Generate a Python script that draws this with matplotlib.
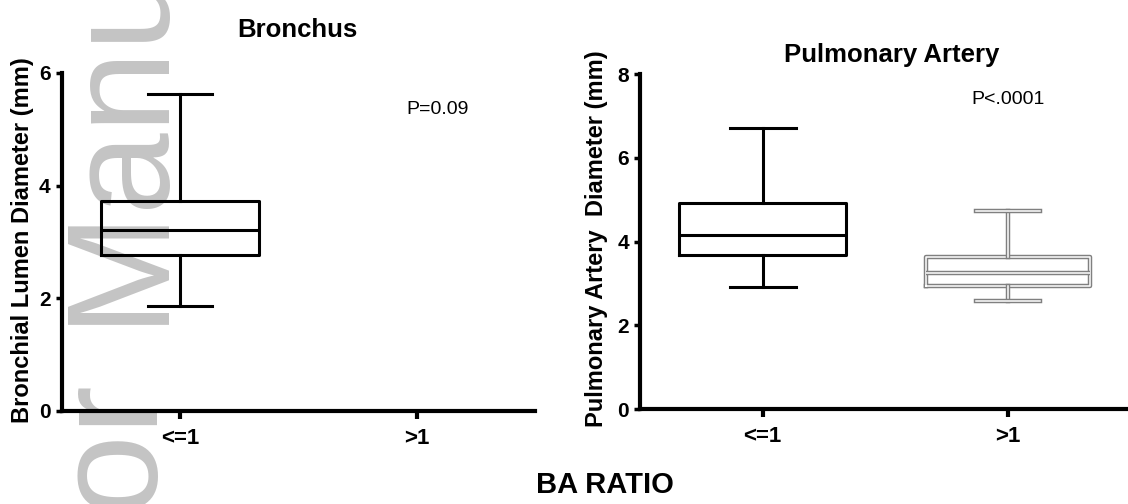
import matplotlib
matplotlib.use('Agg')
import matplotlib.pyplot as plt
import matplotlib.patheffects as pe

plt.rcParams['font.family'] = ['Liberation Sans', 'DejaVu Sans']

groups = ['<=1', '>1']
# low whisker, Q1, median, Q3, high whisker
bronchus_le1 = [1.86, 2.77, 3.22, 3.72, 5.62]
artery_le1 = [2.92, 3.67, 4.17, 4.93, 6.70]
artery_gt1 = [2.59, 2.94, 3.26, 3.64, 4.73]
bronchus_ticks = [0, 2, 4, 6]
artery_ticks = [0, 2, 4, 6, 8]
p_bronchus = 'P=0.09'
p_artery = 'P<.0001'


def stats(v):
    return {'whislo': v[0], 'q1': v[1], 'med': v[2], 'q3': v[3], 'whishi': v[4], 'fliers': []}


W, H = 1128, 504
fig = plt.figure(figsize=(W / 100, H / 100), dpi=100)

# watermark behind everything
wm = dict(rotation=90, rotation_mode='anchor', color='#c4c4c4', fontsize=106,
          va='baseline', zorder=-5)
fig.text(158 / W, 1 - 384 / H, 'Author', ha='right', **wm)
fig.text(158 / W, 1 - 324 / H, 'Manuscript', ha='left', **wm)

ax1 = fig.add_axes([61.7 / W, 1 - 411 / H, 473.3 / W, 338 / H])
ax2 = fig.add_axes([640 / W, 1 - 409.3 / H, 491 / W, 335.3 / H])

black = dict(color='black', linewidth=2.2)
line_props = dict(boxprops=black, whiskerprops=black, capprops=black,
                  medianprops=black)

ax1.bxp([stats(bronchus_le1)], positions=[1], widths=0.67, capwidths=0.27,
        showfliers=False, **line_props)
ax2.bxp([stats(artery_le1)], positions=[1], widths=0.68, capwidths=0.27,
        showfliers=False, **line_props)

thin = dict(color='white', linewidth=1.1)
parts = ax2.bxp([stats(artery_gt1)], positions=[2], widths=0.67, capwidths=0.26,
                showfliers=False, boxprops=thin, whiskerprops=thin,
                capprops=thin, medianprops=thin)
for key in ['boxes', 'whiskers', 'caps', 'medians']:
    for ln in parts[key]:
        ln.set_path_effects([pe.Stroke(linewidth=3.2, foreground='#808080'), pe.Normal()])

for ax, ticks in [(ax1, bronchus_ticks), (ax2, artery_ticks)]:
    ax.patch.set_visible(False)
    ax.set_xlim(0.5, 2.5)
    ax.set_ylim(ticks[0], ticks[-1])
    ax.set_yticks(ticks)
    ax.set_xticks([1, 2])
    ax.set_xticklabels(groups)
    for s in ['top', 'right']:
        ax.spines[s].set_visible(False)
    for s in ['left', 'bottom']:
        ax.spines[s].set_linewidth(3)
        ax.spines[s].set_capstyle('projecting')
    ax.tick_params(axis='x', length=6, width=3, pad=6, labelsize=16)
    ax.tick_params(axis='y', length=4, width=2.5, pad=4, labelsize=15)
    for lab in ax.get_xticklabels() + ax.get_yticklabels():
        lab.set_fontweight('bold')
    for ln in ax.get_lines():
        ln.set_clip_on(False)

ax1.text(2.09, 5.36, p_bronchus, ha='center', va='center', fontsize=14)
ax2.text(2.0, 7.40, p_artery, ha='center', va='center', fontsize=14)

fig.text(297 / W, 1 - 37 / H, 'Bronchus', ha='center', va='baseline',
         fontsize=18.5, fontweight='bold')
fig.text(892 / W, 1 - 62 / H, 'Pulmonary Artery', ha='center', va='baseline',
         fontsize=18.5, fontweight='bold')

fig.text(23 / W, 1 - 240 / H, 'Bronchial Lumen Diameter (mm)', rotation=90,
         ha='center', va='center', fontsize=17, fontweight='bold')
fig.text(596 / W, 1 - 239 / H, 'Pulmonary Artery  Diameter (mm)', rotation=90,
         ha='center', va='center', fontsize=17, fontweight='bold')

fig.text(605 / W, 1 - 485 / H, 'BA RATIO', ha='center', va='center',
         fontsize=21, fontweight='bold')

fig.savefig('out.png', dpi=100, facecolor='white')
